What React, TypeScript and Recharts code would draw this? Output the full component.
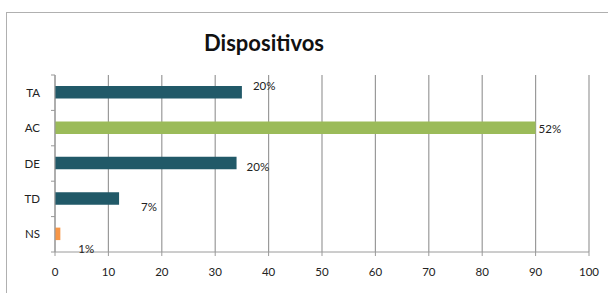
import React from 'react';
import { Bar, BarChart, CartesianGrid, Cell, LabelList, XAxis, YAxis } from 'recharts';

const categories = ['TA', 'AC', 'DE', 'TD', 'NS'];
const values = [35, 90, 34, 12, 1];
const percentLabels = ['20%', '52%', '20%', '7%', '1%'];
const xTicks = [0, 10, 20, 30, 40, 50, 60, 70, 80, 90, 100];

const barColors: Record<string, string> = {
  TA: '#215968',
  AC: '#9bbb59',
  DE: '#215968',
  TD: '#215968',
  NS: '#f79646',
};

// excel placed these labels by hand, so nudge each one a bit
const labelNudge = [
  { dx: 11, dy: -6 },
  { dx: 3, dy: 1 },
  { dx: 10, dy: 4 },
  { dx: 22, dy: 9 },
  { dx: 18, dy: 15 },
];

const W = 608;
const H = 293;
const M = { top: 75, right: 19, bottom: 11, left: 0 };
const X_AXIS_H = 30;
const BAND = (H - M.top - M.bottom - X_AXIS_H) / categories.length;
const FONT = 'Lato, "Open Sans", sans-serif';

const data = categories.map((name, i) => ({
  name,
  value: values[i],
  pct: percentLabels[i],
}));

function YTick(props: any) {
  const { x, y, payload, index } = props;
  const ax = x + 8;
  return (
    <g>
      <line x1={ax - 4} x2={ax} y1={y - BAND / 2} y2={y - BAND / 2} stroke="#999" />
      {index === categories.length - 1 && (
        <line x1={ax - 4} x2={ax} y1={y + BAND / 2} y2={y + BAND / 2} stroke="#999" />
      )}
      <text x={x - 7} y={y} dy={4} textAnchor="end" fontSize={11.5} fill="#222" fontFamily={FONT}>
        {payload.value}
      </text>
    </g>
  );
}

function PctLabel(props: any) {
  const { x, y, width, height, index, value } = props;
  const n = labelNudge[index] || { dx: 4, dy: 0 };
  return (
    <text
      x={x + width + n.dx}
      y={y + height / 2 + n.dy}
      dy={4}
      fontSize={11.5}
      fill="#222"
      fontFamily={FONT}
    >
      {value}
    </text>
  );
}

export default function App() {
  return (
    <div
      style={{
        position: 'fixed',
        left: 0,
        top: 0,
        width: W,
        height: H,
        overflow: 'hidden',
        background: '#fff',
      }}
    >
      <div
        style={{
          position: 'absolute',
          left: 6,
          top: 12,
          width: 700,
          height: 400,
          borderLeft: '1.5px solid #b0b0b0',
          borderTop: '1.5px solid #b0b0b0',
        }}
      />
      <div
        style={{
          position: 'absolute',
          left: 164,
          width: 200,
          top: 30,
          textAlign: 'center',
          fontFamily: FONT,
          fontWeight: 700,
          fontSize: 22,
          lineHeight: '26px',
          color: '#111',
        }}
      >
        Dispositivos
      </div>
      <div style={{ position: 'absolute', left: 0, top: 0 }}>
        <BarChart width={W} height={H} data={data} layout="vertical" margin={M} barSize={12.5}>
          <CartesianGrid horizontal={false} stroke="#9a9a9a" strokeWidth={1.2} />
          <XAxis
            type="number"
            domain={[0, 100]}
            ticks={xTicks}
            interval={0}
            height={X_AXIS_H}
            stroke="#9a9a9a"
            tickSize={4}
            tickMargin={12}
            tick={{ fill: '#222', fontSize: 11.5, fontFamily: FONT }}
          />
          <YAxis
            type="category"
            dataKey="name"
            width={55}
            stroke="#9a9a9a"
            tickLine={false}
            tick={<YTick />}
          />
          <Bar dataKey="value" isAnimationActive={false}>
            {data.map((d) => (
              <Cell key={d.name} fill={barColors[d.name]} />
            ))}
            <LabelList dataKey="pct" content={<PctLabel />} />
          </Bar>
        </BarChart>
      </div>
    </div>
  );
}
